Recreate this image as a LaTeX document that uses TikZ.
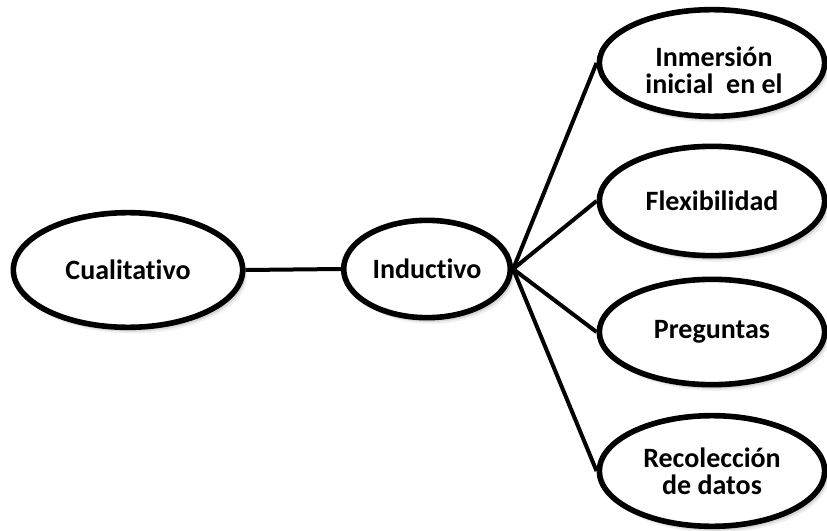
\documentclass[tikz,border=0pt]{standalone}
\usepackage{fontspec}
\newfontfamily\bubfont{Carlito Bold}[RawFeature=-liga]
\usetikzlibrary{shapes.geometric,shadows}
\tikzset{
  bubble/.style={ellipse, draw=black, line width=4.2pt, fill=white, inner sep=0pt,
    align=center, font=\bubfont\fontsize{21}{20.5}\selectfont,
    general shadow={fill=black, opacity=.10, shadow xshift=1.2pt, shadow yshift=-1.8pt},
    general shadow={fill=black, opacity=.10, shadow xshift=2.2pt, shadow yshift=-3.2pt},
    general shadow={fill=black, opacity=.06, shadow xshift=3.2pt, shadow yshift=-4.6pt}},
  bubtext/.style={inner sep=0pt, align=center, font=\bubfont\fontsize{21}{20.5}\selectfont},
  link/.style={draw=black, line width=3pt}
}
\begin{document}
\begin{tikzpicture}[x=0.75pt,y=-0.75pt]
\useasboundingbox (0,0) rectangle (827,531);
\node[bubble, minimum width=172pt, minimum height=86pt] (cual) at (128,270) {Cualitativo};
\node[bubble, minimum width=125pt, minimum height=73pt] (ind) at (427,269) {Inductivo};
\node[bubble, minimum width=169pt, minimum height=80pt] (inm) at (712,63) {};
\node[bubtext] (inmtext) at (714,70) {Inmersión\\inicial\ \ en el};
\node[bubble, minimum width=169pt, minimum height=82pt] (flex) at (712,201) {Flexibilidad};
\node[bubble, minimum width=169pt, minimum height=79pt] (preg) at (712,332) {Preguntas};
\node[bubble, minimum width=169pt, minimum height=83pt] (reco) at (712,471) {Recolección\\de datos};
\draw[link] (cual.east) -- (ind.west);
\draw[link] (ind.east) -- (inm.west);
\draw[link] (ind.east) -- (flex.west);
\draw[link] (ind.east) -- (preg.west);
\draw[link] (ind.east) -- (reco.west);
\end{tikzpicture}
\end{document}
